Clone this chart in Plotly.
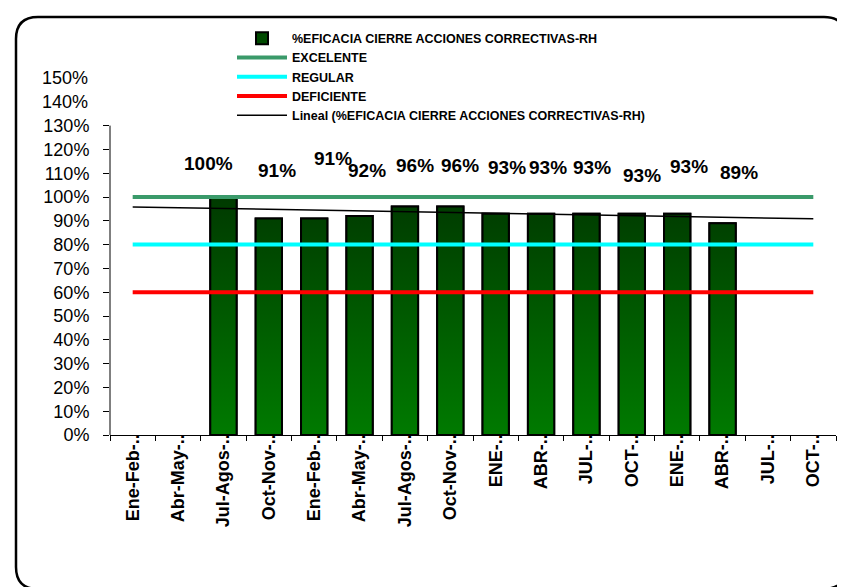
import numpy as np
import plotly.graph_objects as go

# ---------------- data ----------------
categories = ["Ene-Feb-..", "Abr-May-..", "Jul-Agos-..", "Oct-Nov-..",
              "Ene-Feb-..", "Abr-May-..", "Jul-Agos-..", "Oct-Nov-..",
              "ENE-..", "ABR-..", "JUL-..", "OCT-..", "ENE-..", "ABR-..",
              "JUL-..", "OCT-.."]
eficacia = [None, None, 1.00, 0.91, 0.91, 0.92, 0.96, 0.96,
            0.93, 0.93, 0.93, 0.93, 0.93, 0.89, None, None]
excelente = [1.00] * 16
regular = [0.80] * 16
deficiente = [0.60] * 16
y_ticks = [i / 10 for i in range(0, 14)]
y_extra_ticks = [1.4, 1.5]

# label nudges (pixels) for the manually-placed data labels
label_dx = [-15, 8, 19, 7, 10, 10, 11, 7, 6, 10, 12, 16]
label_dy = [34, 48, 60, 46, 41, 41, 46, 46, 46, 38, 47, 51]

# ---------------- layout geometry ----------------
W, H = 845, 587
OFF = 8                      # page body margin
L, R, T, B = 102, 17, 70, 160
PW, PH = W - L - R, H - T - B
FONT = "Arial, Liberation Sans, sans-serif"

def px(x):
    """page pixel x -> paper x"""
    return (x - OFF - L) / PW

def py(y):
    """page pixel y -> paper y"""
    return (H - B - (y - OFF)) / PH

idx = list(range(1, len(categories) + 1))
bx = [i for i, v in zip(idx, eficacia) if v is not None]
bv = [v for v in eficacia if v is not None]
bar_w = 0.58

fig = go.Figure()

# semantic bar trace (legend carrier)
fig.add_trace(go.Bar(
    x=bx, y=bv, width=bar_w, name="%EFICACIA CIERRE ACCIONES CORRECTIVAS-RH",
    marker=dict(color="#004a00", line=dict(color="black", width=2)),
))

# gradient fill overlay for the bars
gx, gy = [], []
for i, v in zip(bx, bv):
    gx += [i - bar_w / 2, i + bar_w / 2, i + bar_w / 2, i - bar_w / 2, i - bar_w / 2, None]
    gy += [0, 0, v, v, 0, None]
fig.add_trace(go.Scatter(
    x=gx, y=gy, mode="lines", fill="toself", showlegend=False, hoverinfo="skip",
    line=dict(color="black", width=2),
    fillgradient=dict(type="vertical", start=0, stop=max(bv),
                      colorscale=[[0, "#007a00"], [1, "#003a00"]]),
))

fig.add_trace(go.Scatter(x=idx, y=excelente, mode="lines", name="EXCELENTE",
                         line=dict(color="#3a9a6a", width=4)))
fig.add_trace(go.Scatter(x=idx, y=regular, mode="lines", name="REGULAR",
                         line=dict(color="#00ffff", width=4)))
fig.add_trace(go.Scatter(x=idx, y=deficiente, mode="lines", name="DEFICIENTE",
                         line=dict(color="#ff0000", width=4)))

slope, intercept = np.polyfit(bx, bv, 1)
trend = [slope * i + intercept for i in idx]
fig.add_trace(go.Scatter(x=idx, y=trend, mode="lines",
                         name="Lineal (%EFICACIA CIERRE ACCIONES CORRECTIVAS-RH)",
                         line=dict(color="black", width=1.5)))

annotations = []
for k, (i, v) in enumerate(zip(bx, bv)):
    annotations.append(dict(
        x=i, y=v, xref="x", yref="y", text=f"{v:.0%}", showarrow=False,
        xshift=label_dx[k], yshift=label_dy[k], yanchor="middle",
        font=dict(family=FONT, size=19, color="black", weight="bold"),
    ))
for t in y_extra_ticks:
    annotations.append(dict(
        x=0, y=t, xref="paper", yref="y", text=f"{t:.0%}", showarrow=False,
        xanchor="right", xshift=-20, font=dict(family=FONT, size=18, color="black"),
    ))

# rounded outer frame (page pixel coordinates)
fl, ft, fr, fb, rr = 16, 17, 846, 589, 22
path = (f"M {px(fl)},{py(ft + rr)} Q {px(fl)},{py(ft)} {px(fl + rr)},{py(ft)} "
        f"L {px(fr - rr)},{py(ft)} Q {px(fr)},{py(ft)} {px(fr)},{py(ft + rr)} "
        f"L {px(fr)},{py(fb - rr)} Q {px(fr)},{py(fb)} {px(fr - rr)},{py(fb)} "
        f"L {px(fl + rr)},{py(fb)} Q {px(fl)},{py(fb)} {px(fl)},{py(fb - rr)} Z")

shapes = [
    dict(type="path", path=path, xref="paper", yref="paper",
         line=dict(color="black", width=2.5), fillcolor="rgba(0,0,0,0)"),
    dict(type="line", xref="paper", yref="y", x0=0, x1=0, y0=0, y1=1.3,
         line=dict(color="black", width=1)),
]

fig.update_layout(
    width=W, height=H,
    margin=dict(l=L, r=R, t=T, b=B, autoexpand=False),
    paper_bgcolor="white", plot_bgcolor="white",
    font=dict(family=FONT, color="black"),
    showlegend=True,
    legend=dict(x=px(232), y=py(23.5), xanchor="left", yanchor="top",
                bgcolor="rgba(0,0,0,0)", itemwidth=50, tracegroupgap=0,
                font=dict(family=FONT, size=12.5, color="black", weight="bold")),
    xaxis=dict(range=[0.5, len(categories) + 0.5], tickvals=idx, ticktext=categories,
               tickangle=-90, ticks="", showgrid=False, zeroline=False,
               showline=True, linecolor="black", linewidth=1,
               ticklabelstandoff=-9,
               tickfont=dict(family=FONT, size=18, color="black", weight="bold"),
               minor=dict(tick0=0.5, dtick=1, ticks="outside", ticklen=5,
                          tickcolor="black", showgrid=False)),
    yaxis=dict(range=[0, 1.5], tickvals=y_ticks, ticktext=[f"{t:.0%}" for t in y_ticks],
               ticks="outside", ticklen=6, tickcolor="black", showgrid=False,
               zeroline=False, showline=False, ticklabelstandoff=10,
               tickfont=dict(family=FONT, size=18, color="black")),
    annotations=annotations,
    shapes=shapes,
    bargap=0.42,
)

fig.write_html("out.html")
